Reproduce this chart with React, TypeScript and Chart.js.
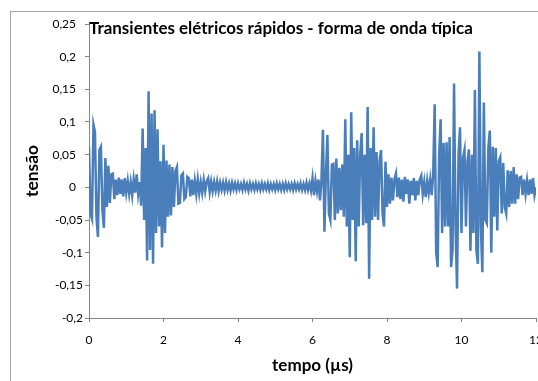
import { useEffect, useRef } from "react";
import { Chart, registerables } from "chart.js";

Chart.register(...registerables);

const TITLE = "Transientes elétricos rápidos - forma de onda típica";
const X_TITLE = "tempo (µs)";
const Y_TITLE = "tensão";

// sampling interval of the recorded waveform (µs)
const TIME_STEP_US = 0.04;

// tensão, one value per sample
const tensao: number[] = [
  0.062, -0.04, -0.048, 0.096, 0.085, -0.045, -0.076, 0.057, 0.062, -0.035,
  -0.062, 0.045, -0.03, 0.033, -0.024, 0.02, 0.021, -0.018, 0.012, -0.012,
  0.015, -0.01, 0.012, -0.014, 0.014, -0.008, 0.01, -0.01, 0.008, -0.012,
  0.012, -0.008, 0.02, -0.01, 0.008, -0.028, 0.09, -0.05, 0.06, -0.112,
  0.147, -0.096, 0.113, -0.117, 0.118, -0.07, 0.089, -0.06, 0.04, -0.092,
  0.065, -0.07, 0.041, -0.045, 0.035, -0.043, 0.031, -0.03, 0.025, 0.031,
  -0.025, -0.024, 0.018, 0.021, -0.018, -0.015, 0.016, 0.014, -0.014, 0.012,
  -0.012, 0.01, -0.01, 0.012, -0.009, 0.008, -0.008, 0.011, -0.006, 0.009,
  0.014, -0.007, 0.009, -0.006, 0.008, -0.005, 0.009, -0.006, 0.007, -0.004,
  0.007, -0.005, 0.008, -0.004, 0.006, -0.005, 0.007, -0.003, 0.006, -0.004,
  0.006, -0.003, 0.005, -0.004, 0.007, -0.003, 0.005, -0.005, 0.006, -0.003,
  0.005, -0.004, 0.006, -0.003, 0.005, -0.004, 0.006, -0.003, 0.005, -0.003,
  0.006, -0.004, 0.005, -0.003, 0.005, -0.004, 0.006, -0.003, 0.005, -0.004,
  0.005, -0.004, 0.006, -0.003, 0.005, -0.003, 0.005, -0.004, 0.006, -0.003,
  0.005, -0.003, 0.006, -0.004, 0.005, -0.004, 0.007, -0.004, 0.006, -0.005,
  0.014, -0.012, 0.01, -0.006, 0.012, -0.02, 0.01, 0.088, -0.068, 0.02,
  0.08, -0.04, -0.05, 0.035, 0.036, -0.05, 0.044, -0.04, 0.03, -0.035,
  0.035, -0.045, 0.104, -0.06, 0.05, -0.107, 0.115, -0.05, 0.06, -0.113,
  0.072, -0.06, 0.05, 0.083, -0.058, 0.05, -0.055, 0.123, -0.14, 0.06,
  -0.05, 0.092, -0.045, 0.054, -0.05, 0.04, 0.057, -0.04, -0.06, 0.039,
  -0.03, 0.02, -0.025, 0.015, -0.02, 0.012, 0.021, -0.015, 0.015, -0.018,
  0.012, -0.022, 0.016, -0.01, 0.012, -0.025, 0.01, -0.012, 0.014, -0.02,
  0.01, -0.012, 0.012, 0.018, -0.01, 0.008, -0.015, 0.01, -0.008, 0.012,
  -0.012, 0.02, 0.127, -0.1, -0.122, 0.05, 0.104, -0.07, 0.068, -0.06,
  0.069, -0.06, 0.077, -0.122, -0.096, 0.159, -0.06, -0.155, 0.05, 0.092,
  -0.07, 0.045, 0.057, -0.06, 0.04, 0.058, -0.097, 0.05, -0.07, 0.149,
  -0.096, -0.117, 0.208, -0.06, -0.13, 0.13, -0.05, -0.055, 0.06, 0.087,
  -0.1, 0.062, -0.045, 0.06, -0.066, 0.04, 0.046, -0.04, 0.037, -0.03,
  -0.04, 0.026, -0.03, 0.025, -0.025, 0.031, -0.025, 0.02, -0.018, 0.015,
  0.016, -0.012, 0.012, -0.01, 0.01, -0.012, 0.012, -0.01, 0.014, -0.012,
  0.0,
];

const X_MIN = 0;
const X_MAX = 12;
const X_STEP = 2;
const Y_MIN = -0.2;
const Y_MAX = 0.25;
const Y_STEP = 0.05;

const FONT = "Lato, 'Open Sans', sans-serif";
const AXIS_COLOR = "#868686";
const LINE_COLOR = "#4a7ebb";

function fmtY(v: number): string {
  const r = Math.round(v * 100) / 100;
  const s = String(Math.abs(r)).replace(".", ",");
  if (r < 0) return "-" + s;
  return s + "\u2007";
}

function fitText(ctx: CanvasRenderingContext2D, text: string, base: number, target: number) {
  ctx.font = `bold ${base}px ${FONT}`;
  const w = ctx.measureText(text).width;
  const size = (base * target) / w;
  ctx.font = `bold ${size}px ${FONT}`;
}

const decor = {
  id: "decor",
  beforeDraw(chart: any) {
    const ctx: CanvasRenderingContext2D = chart.ctx;
    ctx.save();
    ctx.fillStyle = "#ffffff";
    ctx.fillRect(0, 0, chart.width, chart.height);
    ctx.strokeStyle = "#a6a6a6";
    ctx.lineWidth = 1;
    ctx.strokeRect(10.5, 11.5, chart.width + 20, chart.height + 20);
    ctx.restore();
  },
  afterDraw(chart: any) {
    const ctx: CanvasRenderingContext2D = chart.ctx;
    const area = chart.chartArea;
    ctx.save();
    ctx.fillStyle = "#000000";
    fitText(ctx, TITLE, 16, 384);
    ctx.textAlign = "left";
    ctx.textBaseline = "alphabetic";
    ctx.fillText(TITLE, area.left, 34);
    fitText(ctx, X_TITLE, 15, 81);
    ctx.textAlign = "center";
    ctx.fillText(X_TITLE, 312.5, 371);
    fitText(ctx, Y_TITLE, 15, 52);
    ctx.translate(38, 171);
    ctx.rotate(-Math.PI / 2);
    ctx.textAlign = "center";
    ctx.textBaseline = "alphabetic";
    ctx.fillText(Y_TITLE, 0, 0);
    ctx.restore();
  },
};

export default function App() {
  const ref = useRef<HTMLCanvasElement | null>(null);

  useEffect(() => {
    if (!ref.current) return;
    const points = tensao.map((v, i) => ({ x: i * TIME_STEP_US, y: v }));
    const chart = new Chart(ref.current, {
      type: "line",
      data: {
        datasets: [
          {
            data: points,
            borderColor: LINE_COLOR,
            borderWidth: 2.5,
            pointRadius: 0,
            fill: false,
            tension: 0,
          },
        ],
      },
      options: {
        responsive: false,
        animation: false,
        events: [],
        layout: { padding: { top: 24, right: 2, left: 0, bottom: 0 } },
        plugins: {
          legend: { display: false },
          tooltip: { enabled: false },
          title: { display: false },
        },
        scales: {
          x: {
            type: "linear",
            min: X_MIN,
            max: X_MAX,
            ticks: {
              stepSize: X_STEP,
              color: "#000",
              font: { family: FONT, size: 12 },
              padding: 11,
              maxRotation: 0,
              callback: (v: any) => String(v),
            },
            grid: { drawOnChartArea: false, tickLength: 4, color: AXIS_COLOR },
            border: { color: AXIS_COLOR },
            afterFit: (s: any) => {
              s.height = 63;
              s.paddingLeft = 0;
              s.paddingRight = 0;
            },
          },
          y: {
            type: "linear",
            min: Y_MIN,
            max: Y_MAX,
            ticks: {
              stepSize: Y_STEP,
              color: "#000",
              font: { family: FONT, size: 12 },
              padding: 2,
              callback: (v: any) => fmtY(Number(v)),
            },
            grid: { drawOnChartArea: false, tickLength: 4, color: AXIS_COLOR },
            border: { color: AXIS_COLOR },
            afterFit: (s: any) => {
              s.width = 89;
              s.paddingTop = 0;
              s.paddingBottom = 0;
            },
          },
        },
      },
      plugins: [decor],
    });
    return () => chart.destroy();
  }, []);

  return (
    <div
      style={{
        position: "fixed",
        left: 0,
        top: 0,
        width: 538,
        height: 381,
        background: "#fff",
      }}
    >
      <canvas
        ref={ref}
        width={538}
        height={381}
        style={{ display: "block", width: 538, height: 381 }}
      />
    </div>
  );
}
